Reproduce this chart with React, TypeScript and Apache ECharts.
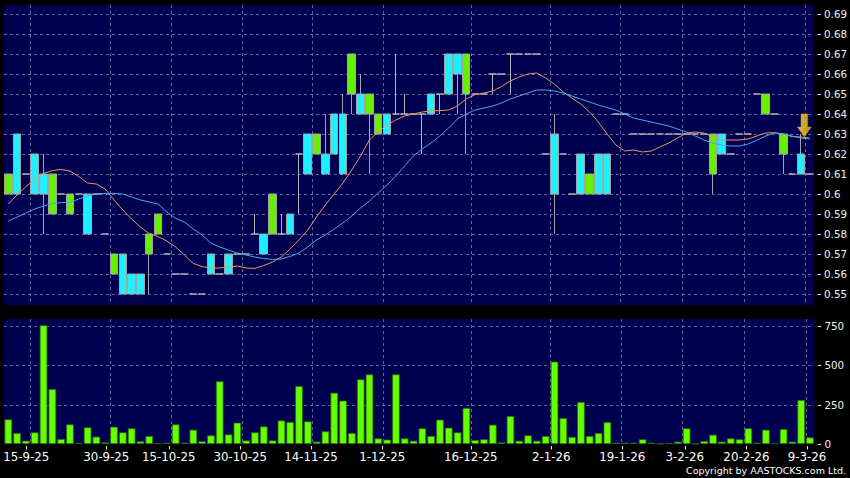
import React, { useEffect, useRef } from "react";
import * as echarts from "echarts";

// [open, close, low, high]
const candles: number[][] = [
  [0.61, 0.6, 0.6, 0.61], [0.6, 0.63, 0.6, 0.63], [0.61, 0.61, 0.61, 0.61], [0.6, 0.62, 0.6, 0.62],
  [0.6, 0.61, 0.58, 0.62], [0.61, 0.59, 0.59, 0.61], [0.6, 0.6, 0.6, 0.6], [0.6, 0.59, 0.59, 0.6],
  [0.6, 0.6, 0.6, 0.6], [0.58, 0.6, 0.58, 0.6], [0.6, 0.6, 0.6, 0.6], [0.58, 0.58, 0.58, 0.58],
  [0.57, 0.56, 0.56, 0.57], [0.55, 0.57, 0.55, 0.57], [0.55, 0.56, 0.55, 0.56], [0.55, 0.56, 0.55, 0.56],
  [0.58, 0.57, 0.55, 0.58], [0.59, 0.58, 0.58, 0.59], [0.57, 0.57, 0.57, 0.57], [0.56, 0.56, 0.56, 0.56],
  [0.56, 0.56, 0.56, 0.56], [0.55, 0.55, 0.55, 0.55], [0.55, 0.55, 0.55, 0.55], [0.56, 0.57, 0.56, 0.57],
  [0.56, 0.56, 0.56, 0.56], [0.56, 0.57, 0.56, 0.57], [0.57, 0.57, 0.57, 0.57], [0.57, 0.57, 0.57, 0.57],
  [0.58, 0.58, 0.58, 0.59], [0.57, 0.58, 0.57, 0.58], [0.6, 0.58, 0.58, 0.6], [0.58, 0.58, 0.58, 0.59],
  [0.58, 0.59, 0.58, 0.59], [0.62, 0.62, 0.59, 0.62], [0.61, 0.63, 0.61, 0.63], [0.63, 0.62, 0.62, 0.63],
  [0.61, 0.62, 0.61, 0.64], [0.62, 0.64, 0.62, 0.64], [0.61, 0.64, 0.61, 0.65], [0.67, 0.65, 0.64, 0.67],
  [0.64, 0.65, 0.64, 0.66], [0.65, 0.64, 0.61, 0.65], [0.64, 0.63, 0.63, 0.64], [0.63, 0.64, 0.63, 0.64],
  [0.64, 0.64, 0.64, 0.67], [0.64, 0.64, 0.64, 0.65], [0.64, 0.64, 0.64, 0.64], [0.64, 0.64, 0.62, 0.64],
  [0.64, 0.65, 0.64, 0.65], [0.65, 0.65, 0.64, 0.65], [0.65, 0.67, 0.65, 0.67], [0.66, 0.67, 0.64, 0.67],
  [0.67, 0.65, 0.62, 0.67], [0.65, 0.65, 0.65, 0.65], [0.65, 0.65, 0.65, 0.65], [0.66, 0.66, 0.65, 0.66],
  [0.66, 0.66, 0.66, 0.66], [0.67, 0.67, 0.65, 0.67], [0.67, 0.67, 0.67, 0.67], [0.67, 0.67, 0.67, 0.67],
  [0.67, 0.67, 0.67, 0.67], [0.62, 0.62, 0.62, 0.62], [0.6, 0.63, 0.58, 0.64], [0.62, 0.62, 0.62, 0.62],
  [0.6, 0.6, 0.6, 0.6], [0.6, 0.62, 0.6, 0.62], [0.61, 0.6, 0.6, 0.61], [0.6, 0.62, 0.6, 0.62],
  [0.6, 0.62, 0.6, 0.62], [0.64, 0.64, 0.64, 0.64], [0.64, 0.64, 0.64, 0.64], [0.63, 0.63, 0.63, 0.63],
  [0.63, 0.63, 0.63, 0.63], [0.63, 0.63, 0.63, 0.63], [0.63, 0.63, 0.63, 0.63], [0.63, 0.63, 0.63, 0.63],
  [0.63, 0.63, 0.63, 0.63], [0.63, 0.63, 0.63, 0.63], [0.63, 0.63, 0.63, 0.63], [0.63, 0.63, 0.63, 0.63],
  [0.63, 0.61, 0.6, 0.63], [0.62, 0.63, 0.62, 0.63], [0.62, 0.62, 0.62, 0.62], [0.63, 0.63, 0.63, 0.63],
  [0.63, 0.63, 0.63, 0.63], [0.65, 0.65, 0.65, 0.65], [0.65, 0.64, 0.64, 0.65], [0.64, 0.64, 0.64, 0.64],
  [0.63, 0.62, 0.61, 0.63], [0.61, 0.61, 0.61, 0.61], [0.61, 0.62, 0.61, 0.63], [0.61, 0.61, 0.61, 0.61],
];

const ma10: number[] = [
  0.595, 0.5995, 0.6037, 0.6073, 0.6103, 0.6117, 0.6123, 0.6115, 0.6087, 0.6055,
  0.605, 0.6025, 0.597, 0.592, 0.5875, 0.5835, 0.5803, 0.5787, 0.5765, 0.5735,
  0.5695, 0.5653, 0.5637, 0.563, 0.563, 0.5635, 0.564, 0.563, 0.5628, 0.5642,
  0.566, 0.5685, 0.5725, 0.577, 0.582, 0.5885, 0.5945, 0.6, 0.6055, 0.612,
  0.619, 0.627, 0.631, 0.6345, 0.637, 0.639, 0.64, 0.641, 0.6415, 0.6417,
  0.642, 0.644, 0.6475, 0.6497, 0.6505, 0.6515, 0.6537, 0.6565, 0.6585, 0.66,
  0.6605, 0.658, 0.655, 0.651, 0.648, 0.645, 0.641, 0.636, 0.63, 0.6245,
  0.6215, 0.622, 0.621, 0.6215, 0.6235, 0.6255, 0.628, 0.6305, 0.631, 0.6305,
  0.6285, 0.627, 0.627, 0.627, 0.6275, 0.629, 0.6305, 0.6307, 0.63, 0.6287,
  0.6285, 0.628,
];

const ma20: number[] = [
  0.5865, 0.5885, 0.5905, 0.5925, 0.594, 0.5952, 0.5957, 0.5957, 0.5975, 0.599,
  0.6, 0.6003, 0.6003, 0.6, 0.5985, 0.597, 0.596, 0.595, 0.591, 0.5878,
  0.586, 0.5825, 0.5795, 0.5755, 0.5735, 0.572, 0.5705, 0.5695, 0.5685, 0.5677,
  0.5673, 0.5675, 0.5688, 0.5705, 0.5735, 0.577, 0.5795, 0.5825, 0.5855, 0.589,
  0.593, 0.5965, 0.6005, 0.6045, 0.609, 0.614, 0.619, 0.6225, 0.6255, 0.629,
  0.633, 0.6375, 0.64, 0.642, 0.643, 0.644, 0.6455, 0.6475, 0.649, 0.6505,
  0.652, 0.652, 0.6515, 0.6505, 0.649, 0.6475, 0.646, 0.6445, 0.6432, 0.642,
  0.64, 0.638, 0.637, 0.636, 0.635, 0.634, 0.6325, 0.631, 0.629, 0.627,
  0.6255, 0.6245, 0.624, 0.624, 0.625, 0.6268, 0.629, 0.6305, 0.63, 0.629,
  0.628, 0.6275,
];

const volumes: number[] = [
  157, 70, 21, 74, 755, 350, 32, 125, 6, 106,
  47, 10, 110, 74, 100, 17, 51, 5, 8, 125,
  8, 91, 17, 55, 399, 61, 136, 23, 74, 112,
  23, 150, 140, 369, 144, 15, 81, 326, 276, 70,
  411, 443, 36, 28, 443, 36, 21, 100, 51, 155,
  104, 74, 229, 25, 30, 123, 10, 178, 21, 55,
  21, 51, 524, 165, 45, 267, 51, 70, 140, 8,
  8, 8, 30, 8, 2, 6, 15, 100, 2, 19,
  59, 15, 36, 30, 100, 8, 91, 4, 95, 15,
  280, 42,
];

const priceTicks: number[] = [0.55, 0.56, 0.57, 0.58, 0.59, 0.6, 0.61, 0.62, 0.63, 0.64, 0.65, 0.66, 0.67, 0.68, 0.69];
const volumeTicks: number[] = [0, 250, 500, 750];
const volumeGridTicks: number[] = [250, 500, 750];
const dateTickPos: number[] = [2.04, 11.11, 18.2, 26.32, 34.36, 42.45, 52.49, 61.63, 69.7, 76.79, 83.78, 90.66];
const dateTickLabels: string[] = ["15-9-25", "30-9-25", "15-10-25", "30-10-25", "14-11-25", "1-12-25", "16-12-25", "2-1-26", "19-1-26", "3-2-26", "20-2-26", "9-3-26"];
const dateGridPos: number[] = [2.5, 11.5, 18.5, 26.5, 34.5, 42.5, 52.5, 61.5, 69.5, 76.5, 83.5, 90.5];
const arrowMark: number[] = [90.4, 0.6343];

const categories = candles.map((_, i) => String(i));

const NAVY = "#000050";
const GRID_COLOR = "#64649c";
const TICK_COLOR = "#e8e8e8";
const FONT = "DejaVu Sans";

// custom series drawing grid lines / tick marks through the axis scales
function hLines(xAxisIndex: number, yAxisIndex: number, values: number[]) {
  return {
    type: "custom", xAxisIndex, yAxisIndex, silent: true, z: 1, clip: false,
    data: values.map((v) => [0, v]),
    encode: { x: 0, y: 1 },
    renderItem: (params: any, api: any) => {
      const cs = params.coordSys;
      const y = Math.round(api.coord([0, api.value(1)])[1]) + 0.5;
      return {
        type: "line",
        shape: { x1: cs.x, y1: y, x2: cs.x + cs.width, y2: y },
        style: { stroke: GRID_COLOR, lineWidth: 1, lineDash: [3, 3] },
      };
    },
  };
}
function vLines(xAxisIndex: number, yAxisIndex: number, values: number[], yRef: number) {
  return {
    type: "custom", xAxisIndex, yAxisIndex, silent: true, z: 1, clip: false,
    data: values.map((x) => [x, yRef]),
    encode: { x: 0, y: 1 },
    renderItem: (params: any, api: any) => {
      const cs = params.coordSys;
      const x = Math.round(api.coord([api.value(0), api.value(1)])[0]) + 0.5;
      return {
        type: "line",
        shape: { x1: x, y1: cs.y, x2: x, y2: cs.y + cs.height },
        style: { stroke: GRID_COLOR, lineWidth: 1, lineDash: [3, 3] },
      };
    },
  };
}
function yTickMarks(xAxisIndex: number, yAxisIndex: number, values: number[]) {
  return {
    type: "custom", xAxisIndex, yAxisIndex, silent: true, z: 4, clip: false,
    data: values.map((v) => [0, v]),
    encode: { x: 0, y: 1 },
    renderItem: (params: any, api: any) => {
      const cs = params.coordSys;
      const y = Math.round(api.coord([0, api.value(1)])[1]) + 0.5;
      const x0 = cs.x + cs.width;
      return {
        type: "line",
        shape: { x1: x0 + 3.6, y1: y, x2: x0 + 6.8, y2: y },
        style: { stroke: TICK_COLOR, lineWidth: 1 },
      };
    },
  };
}
function xTickMarks(xAxisIndex: number, yAxisIndex: number, values: number[], yRef: number) {
  return {
    type: "custom", xAxisIndex, yAxisIndex, silent: true, z: 4, clip: false,
    data: values.map((x) => [x, yRef]),
    encode: { x: 0, y: 1 },
    renderItem: (params: any, api: any) => {
      const cs = params.coordSys;
      const x = Math.round(api.coord([api.value(0), api.value(1)])[0]) + 0.5;
      const y0 = cs.y + cs.height;
      return {
        type: "line",
        shape: { x1: x, y1: y0 + 2, x2: x, y2: y0 + 5.5 },
        style: { stroke: TICK_COLOR, lineWidth: 1 },
      };
    },
  };
}

export default function App() {
  const ref = useRef<HTMLDivElement>(null);
  useEffect(() => {
    if (!ref.current) return;
    const chart = echarts.init(ref.current, null, { renderer: "svg" });
    const option: any = {
      animation: false,
      backgroundColor: "#000000",
      textStyle: { fontFamily: FONT },
      grid: [
        { left: 3.9, right: 35.6, top: 5, height: 300, show: true, backgroundColor: NAVY, borderWidth: 0 },
        { left: 3.9, right: 35.6, top: 319, height: 125, show: true, backgroundColor: NAVY, borderWidth: 0 },
      ],
      xAxis: [
        { type: "category", gridIndex: 0, data: categories, show: false },
        { type: "category", gridIndex: 1, data: categories, show: false },
        {
          type: "value", gridIndex: 1, min: -0.5, max: 91.5, position: "bottom", offset: 2,
          axisLine: { show: false }, splitLine: { show: false }, axisTick: { show: false },
          axisLabel: {
            show: true, customValues: dateTickPos, margin: 5, color: "#ffffff", fontSize: 11.8, fontFamily: FONT,
            formatter: (v: number) => { const k = dateTickPos.indexOf(v); return k >= 0 ? dateTickLabels[k] : ""; },
          },
        },
        { type: "value", gridIndex: 0, min: -0.5, max: 91.5, show: false },
      ],
      yAxis: [
        {
          type: "value", gridIndex: 0, min: 0.5445, max: 0.6945, position: "right", offset: 3,
          axisLine: { show: false }, splitLine: { show: false }, axisTick: { show: false },
          axisLabel: {
            show: true, customValues: priceTicks, margin: 7, color: "#f0f0f0", fontSize: 10.3, fontFamily: FONT,
            formatter: (v: number) => String(parseFloat(v.toFixed(2))),
          },
        },
        {
          type: "value", gridIndex: 1, min: 0, max: 795, position: "right", offset: 3,
          axisLine: { show: false }, splitLine: { show: false }, axisTick: { show: false },
          axisLabel: {
            show: true, customValues: volumeTicks, margin: 7, color: "#f0f0f0", fontSize: 10.3, fontFamily: FONT,
            formatter: (v: number) => String(v),
          },
        },
      ],
      series: [
        hLines(3, 0, priceTicks),
        vLines(3, 0, dateGridPos, 0.6),
        hLines(2, 1, volumeGridTicks),
        vLines(2, 1, dateGridPos, 100),
        yTickMarks(3, 0, priceTicks),
        yTickMarks(2, 1, volumeTicks),
        xTickMarks(2, 1, dateTickPos, 100),
        {
          type: "candlestick", xAxisIndex: 0, yAxisIndex: 0, data: candles, barWidth: 8, z: 2,
          itemStyle: {
            color: "#1ff0ff", color0: "#66f000",
            borderColor: "#a4a4a4", borderColor0: "#a4a4a4", borderColorDoji: "#b4b4b4", borderWidth: 1,
          },
        },
        {
          type: "line", xAxisIndex: 0, yAxisIndex: 0, data: ma10, showSymbol: false, symbol: "none", z: 3,
          lineStyle: { color: "#ec955c", width: 1 },
        },
        {
          type: "line", xAxisIndex: 0, yAxisIndex: 0, data: ma20, showSymbol: false, symbol: "none", z: 3,
          lineStyle: { color: "#42aaf0", width: 1 },
        },
        {
          type: "scatter", xAxisIndex: 3, yAxisIndex: 0, data: [arrowMark], z: 5,
          symbol: "path://M3.6,0 L10.4,0 L10.4,13 L14,13 L7,23 L0,13 L3.6,13 Z",
          symbolSize: [14, 23], symbolKeepAspect: false,
          itemStyle: {
            color: new echarts.graphic.LinearGradient(0, 0, 1, 0, [
              { offset: 0, color: "#fff2a8" }, { offset: 0.45, color: "#ffd21e" }, { offset: 1, color: "#f2aa00" },
            ]),
            borderColor: "#c89000", borderWidth: 0.5,
          },
        },
        {
          type: "bar", xAxisIndex: 1, yAxisIndex: 1, data: volumes, barWidth: 7.6, z: 2,
          itemStyle: { color: "#66ff00", borderColor: "#2a6e00", borderWidth: 0.8 },
        },
      ],
      graphic: [
        {
          type: "text", right: 4, top: 465,
          style: { text: "Copyright by AASTOCKS.com Ltd.", fill: "#ffffff", fontSize: 9.5, fontFamily: FONT },
        },
      ],
    };
    chart.setOption(option);
    return () => chart.dispose();
  }, []);
  return (
    <div
      ref={ref}
      style={{ position: "fixed", left: 0, top: 0, width: 850, height: 478, background: "#000" }}
    />
  );
}
